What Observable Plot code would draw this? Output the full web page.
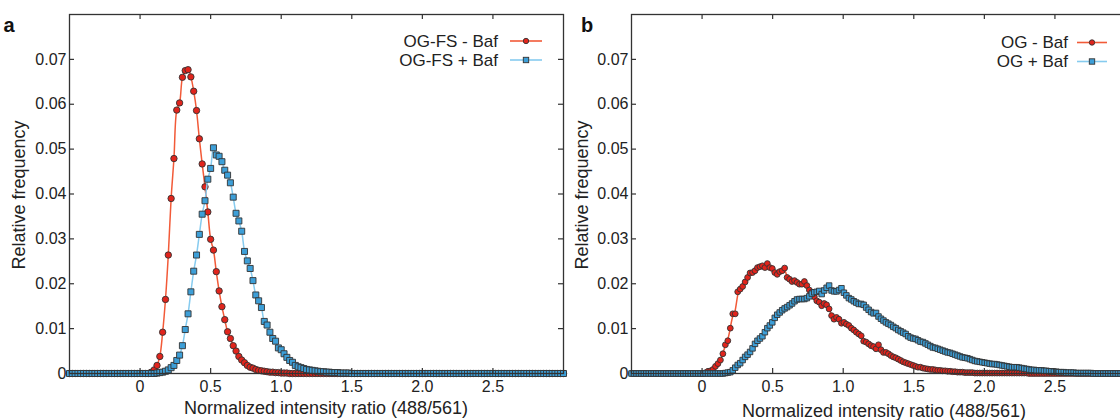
<!DOCTYPE html>
<html>
<head>
<meta charset="utf-8">
<script src="https://cdn.jsdelivr.net/npm/d3@7"></script>
<script src="https://cdn.jsdelivr.net/npm/@observablehq/plot@0.6"></script>
<style>
  html, body { margin: 0; padding: 0; background: #fff; }
  #wrap { position: relative; width: 1120px; height: 420px; overflow: hidden; background: #fff; }
  #wrap svg { position: absolute; top: 0; }
</style>
</head>
<body>
<div id="wrap"></div>
<script>
// ---------- data ----------
const xTickValues = [0, 0.5, 1, 1.5, 2, 2.5];
const xTickLabels = ["0", "0.5", "1.0", "1.5", "2.0", "2.5"];
const yTickValues = [0, 0.01, 0.02, 0.03, 0.04, 0.05, 0.06, 0.07];
const yTickLabels = ["0", "0.01", "0.02", "0.03", "0.04", "0.05", "0.06", "0.07"];

// panel a: bins from -0.5 in steps of 0.02
const binStartA = -0.5, binWidthA = 0.02;
const seriesNamesA = ["OG-FS - Baf", "OG-FS + Baf"];
const redA = [
  0,0,0,0,0,0,0,0,0,0,
  0,0,0,0,0,0,0,0,0,0,
  0,0,0,0,0,0,0,0,0,0.0003,
  0.0008,0.0018,0.0038,0.0092,0.0165,0.0264,0.039,0.0479,0.0587,0.0603,
  0.066,0.0675,0.0677,0.0661,0.0629,0.0586,0.0523,0.0467,0.0416,0.036,
  0.0299,0.0275,0.0227,0.0184,0.0149,0.012,0.0093,0.0078,0.0062,0.005,
  0.0038,0.003,0.0024,0.0018,0.0014,0.0012,0.0009,0.0007,0.0006,0.0005,
  0.0004,0.0003,0.0003,0.0002,0.0002,0.0001,0.0001,0.0001,0,0,
  0,0,0,0,0,0,0,0,0,0,
  0,0,0,0,0,0,0,0,0,0,
  0,0,0,0,0,0,0,0,0,0,
  0,0,0,0,0,0,0,0,0,0,
  0,0,0,0,0,0,0,0,0,0,
  0,0,0,0,0,0,0,0,0,0,
  0,0,0,0,0,0,0,0,0,0,
  0,0,0,0,0,0,0,0,0,0,
  0,0,0,0,0,0,0,0,0,0,
  0,0,0,0,0,0
];
const blueA = [
  0,0,0,0,0,0,0,0,0,0,
  0,0,0,0,0,0,0,0,0,0,
  0,0,0,0,0,0,0,0,0,0,
  0,0.0001,0.0002,0.0003,0.0005,0.0008,0.0013,0.0018,0.0029,0.0041,
  0.0062,0.0098,0.0133,0.0182,0.0228,0.0264,0.031,0.0355,0.0385,0.0433,
  0.0457,0.0503,0.0487,0.0484,0.0472,0.0453,0.0442,0.0425,0.0393,0.0357,
  0.034,0.0317,0.0272,0.0251,0.0234,0.0207,0.0175,0.0162,0.0147,0.0116,
  0.0108,0.0092,0.0078,0.0072,0.0057,0.0053,0.0044,0.0036,0.0029,0.0025,
  0.0018,0.0015,0.0013,0.0011,0.0009,0.0008,0.0007,0.0006,0.0005,0.0004,
  0.0004,0.0003,0.0003,0.0002,0.0002,0.0002,0.0001,0.0001,0.0001,0.0001,
  0,0,0,0,0,0,0,0,0,0,
  0,0,0,0,0,0,0,0,0,0,
  0,0,0,0,0,0,0,0,0,0,
  0,0,0,0,0,0,0,0,0,0,
  0,0,0,0,0,0,0,0,0,0,
  0,0,0,0,0,0,0,0,0,0,
  0,0,0,0,0,0,0,0,0,0,
  0,0,0,0,0,0
];

// panel b: bins from -0.5 in steps of 0.0175
const binStartB = -0.5, binWidthB = 0.0175;
const seriesNamesB = ["OG - Baf", "OG + Baf"];
const redB = [
  0,0,0,0,0,0,0,0,0,0,
  0,0,0,0,0,0,0,0,0,0,
  0,0,0,0,0,0,0,0,0,0,
  0.0002,0.0005,0.0006,0.0009,0.0016,0.0022,0.003,0.0044,0.0064,0.0073,
  0.0101,0.0133,0.0133,0.0182,0.0188,0.0194,0.0204,0.0214,0.0224,0.0225,
  0.0229,0.0236,0.0238,0.024,0.0236,0.0245,0.0236,0.0234,0.0225,0.0221,
  0.0227,0.0229,0.0235,0.0214,0.021,0.0205,0.0207,0.0203,0.0199,0.0199,
  0.0205,0.0196,0.0186,0.0181,0.0171,0.0162,0.0159,0.0151,0.0156,0.0153,
  0.0144,0.0129,0.0121,0.0125,0.0121,0.0112,0.0114,0.011,0.0107,0.0101,
  0.0097,0.0092,0.0088,0.0084,0.0072,0.007,0.0066,0.0062,0.006,0.0055,
  0.0064,0.0053,0.0047,0.0047,0.0044,0.004,0.0037,0.0035,0.0032,0.0029,
  0.0026,0.0024,0.0022,0.002,0.0018,0.0016,0.0014,0.0014,0.0012,0.0011,
  0.001,0.0009,0.0009,0.0008,0.0007,0.0007,0.0006,0.0006,0.0005,0.0005,
  0.0004,0.0004,0.0003,0.0003,0.0003,0.0002,0.0002,0.0002,0.0002,0.0001,
  0.0001,0.0001,0.0001,0.0001,0.0001,0.0001,0.0001,0.0001,0.0001,0.0001,
  0.0001,0.0001,0.0001,0.0001,0.0001,0.0001,0.0001,0.0001,0.0001,0.0001,
  0.0001,0,0,0,0,0,0,0,0,0,
  0,0,0,0,0,0,0,0,0,0,
  0,0,0,0,0,0,0,0,0,0,
  0,0,0,0,0,0,0,0,0,0,
  0
];
const blueB = [
  0,0,0,0,0,0,0,0,0,0,
  0,0,0,0,0,0,0,0,0,0,
  0,0,0,0,0,0,0,0,0,0,
  0,0,0,0,0,0,0,0,0.0001,0.0002,
  0.0003,0.0007,0.0013,0.0019,0.0023,0.003,0.0037,0.0042,0.0048,0.0056,
  0.0066,0.0073,0.0078,0.0083,0.0092,0.0101,0.0107,0.0114,0.0124,0.0131,
  0.0136,0.0141,0.0145,0.0148,0.0152,0.0156,0.0161,0.0165,0.0166,0.0166,
  0.0166,0.0168,0.0172,0.0178,0.0181,0.0182,0.0184,0.0177,0.0185,0.0191,
  0.0196,0.0185,0.0183,0.0183,0.0186,0.019,0.018,0.0174,0.0168,0.0165,
  0.0161,0.0158,0.0155,0.0155,0.0153,0.0147,0.0142,0.0137,0.0134,0.0135,
  0.0127,0.0122,0.0118,0.0114,0.0111,0.0108,0.0104,0.0101,0.0097,0.0094,
  0.0091,0.0088,0.0083,0.008,0.0078,0.0077,0.0074,0.0071,0.007,0.0067,
  0.0064,0.0061,0.0058,0.0057,0.0055,0.0053,0.0051,0.0049,0.0047,0.0046,
  0.0044,0.0042,0.004,0.0038,0.0036,0.0035,0.0034,0.0032,0.003,0.0028,
  0.0027,0.0026,0.0025,0.0024,0.0023,0.0022,0.0021,0.0021,0.002,0.0019,
  0.0018,0.0017,0.0016,0.0015,0.0014,0.0014,0.0014,0.0013,0.0012,0.0011,
  0.001,0.0009,0.0008,0.0008,0.0007,0.0007,0.0007,0.0006,0.0006,0.0005,
  0.0005,0.0004,0.0004,0.0003,0.0003,0.0003,0.0002,0.0002,0.0002,0.0002,
  0.0001,0.0001,0.0001,0.0001,0.0001,0.0001,0.0001,0,0,0,
  0,0,0,0,0,0,0,0,0,0,
  0
];

// ---------- styling ----------
const FONT = "'Liberation Sans', Arial, Helvetica, sans-serif";
const RED_LINE = "#f25a38", RED_FILL = "#e1241c";
const BLUE_LINE = "#86cbef", BLUE_FILL = "#3d9fd8";
const INK = "#333";

function toRows(values, start, step) {
  return values.map((v, i) => ({x: +(start + i * step).toFixed(5), y: v}));
}

function makePanel(cfg) {
  const red = toRows(cfg.red, cfg.start, cfg.step);
  const blue = toRows(cfg.blue, cfg.start, cfg.step);
  const W = cfg.width, H = 420;
  const mL = cfg.mL, mR = cfg.mR, mT = 14, mB = 47;
  const innerW = W - mL - mR, innerH = H - mT - mB;
  const tl = 5;
  const svg = Plot.plot({
    width: W, height: H,
    marginLeft: mL, marginRight: mR, marginTop: mT, marginBottom: mB,
    style: {fontFamily: FONT, fontSize: "16px", color: "#222", background: "transparent", overflow: "visible"},
    x: {domain: [-0.5, 3.0], ticks: xTickValues, tickSize: 0, tickPadding: 7,
        tickFormat: d => xTickLabels[xTickValues.indexOf(d)], label: null},
    y: {domain: [0, 0.08], ticks: yTickValues, tickSize: 0, tickPadding: 3,
        tickFormat: d => yTickLabels[yTickValues.indexOf(d)], label: null},
    marks: [
      Plot.line(red, {x: "x", y: "y", stroke: RED_LINE, strokeWidth: 1.5, curve: cfg.curve}),
      Plot.dot(red, {x: "x", y: "y", r: cfg.rc, fill: RED_FILL, stroke: INK, strokeWidth: 0.9}),
      Plot.line(blue, {x: "x", y: "y", stroke: BLUE_LINE, strokeWidth: 1.5, curve: cfg.curve}),
      Plot.dot(blue, {x: "x", y: "y", r: cfg.rs, symbol: "square", fill: BLUE_FILL, stroke: INK, strokeWidth: 0.9}),
      Plot.tickX(xTickValues, {x: d => d, insetTop: innerH - tl, stroke: INK, strokeWidth: 1.2}),
      Plot.tickX(xTickValues, {x: d => d, insetBottom: innerH - tl, stroke: INK, strokeWidth: 1.2}),
      Plot.tickY(yTickValues.slice(1), {y: d => d, insetRight: innerW - tl, stroke: INK, strokeWidth: 1.2}),
      Plot.tickY(yTickValues.slice(1), {y: d => d, insetLeft: innerW - tl, stroke: INK, strokeWidth: 1.2}),
      Plot.frame({stroke: INK, strokeWidth: 1.3})
    ]
  });
  svg.style.left = cfg.left + "px";
  const s = d3.select(svg);
  // panel letter
  s.append("text").attr("x", cfg.letterX).attr("y", 32)
    .attr("font-family", FONT).attr("font-weight", "bold").attr("font-size", 20).attr("fill", "#111")
    .text(cfg.letter);
  // axis titles
  s.append("text").attr("transform", `translate(${cfg.yLabelX},195) rotate(-90)`)
    .attr("text-anchor", "middle").attr("font-family", FONT).attr("font-size", 18).attr("fill", "#222")
    .text("Relative frequency");
  s.append("text").attr("x", cfg.xLabelX).attr("y", cfg.xLabelY)
    .attr("text-anchor", "middle").attr("font-family", FONT).attr("font-size", 18).attr("fill", "#222")
    .text("Normalized intensity ratio (488/561)");
  // legend
  const lg = cfg.legend;
  const entries = [
    {name: cfg.names[0], ly: lg.y0, line: RED_LINE, fill: RED_FILL, sym: "circle"},
    {name: cfg.names[1], ly: lg.y1, line: BLUE_LINE, fill: BLUE_FILL, sym: "square"}
  ];
  entries.forEach(e => {
    s.append("text").attr("x", lg.textX).attr("y", e.ly + 5.5).attr("text-anchor", "end")
      .attr("font-family", FONT).attr("font-size", 17).attr("fill", "#222")
      .text(e.name);
    s.append("line").attr("x1", lg.x1).attr("x2", lg.x2).attr("y1", e.ly).attr("y2", e.ly)
      .attr("stroke", e.line).attr("stroke-width", 1.6);
    const mx = (lg.x1 + lg.x2) / 2;
    if (e.sym === "circle") {
      s.append("circle").attr("cx", mx).attr("cy", e.ly).attr("r", 2.7)
        .attr("fill", e.fill).attr("stroke", INK).attr("stroke-width", 0.9);
    } else {
      s.append("rect").attr("x", mx - 2.7).attr("y", e.ly - 2.7).attr("width", 5.4).attr("height", 5.4)
        .attr("fill", e.fill).attr("stroke", INK).attr("stroke-width", 0.9);
    }
  });
  return svg;
}

const wrap = document.getElementById("wrap");
wrap.appendChild(makePanel({
  red: redA, blue: blueA, start: binStartA, step: binWidthA, names: seriesNamesA,
  width: 580, mL: 69, mR: 17, left: 0, curve: "catmull-rom", rc: 3.2, rs: 3.4,
  letter: "a", letterX: 9, yLabelX: 25, xLabelX: 326, xLabelY: 414,
  legend: {textX: 498, x1: 510, x2: 542, y0: 41, y1: 60}
}));
wrap.appendChild(makePanel({
  red: redB, blue: blueB, start: binStartB, step: binWidthB, names: seriesNamesB,
  width: 580, mL: 71, mR: 15, left: 560, curve: "basis", rc: 2.9, rs: 3.1,
  letter: "b", letterX: 27, yLabelX: 28, xLabelX: 324, xLabelY: 417,
  legend: {textX: 508, x1: 517, x2: 547, y0: 42.5, y1: 61.5}
}));
</script>
</body>
</html>
